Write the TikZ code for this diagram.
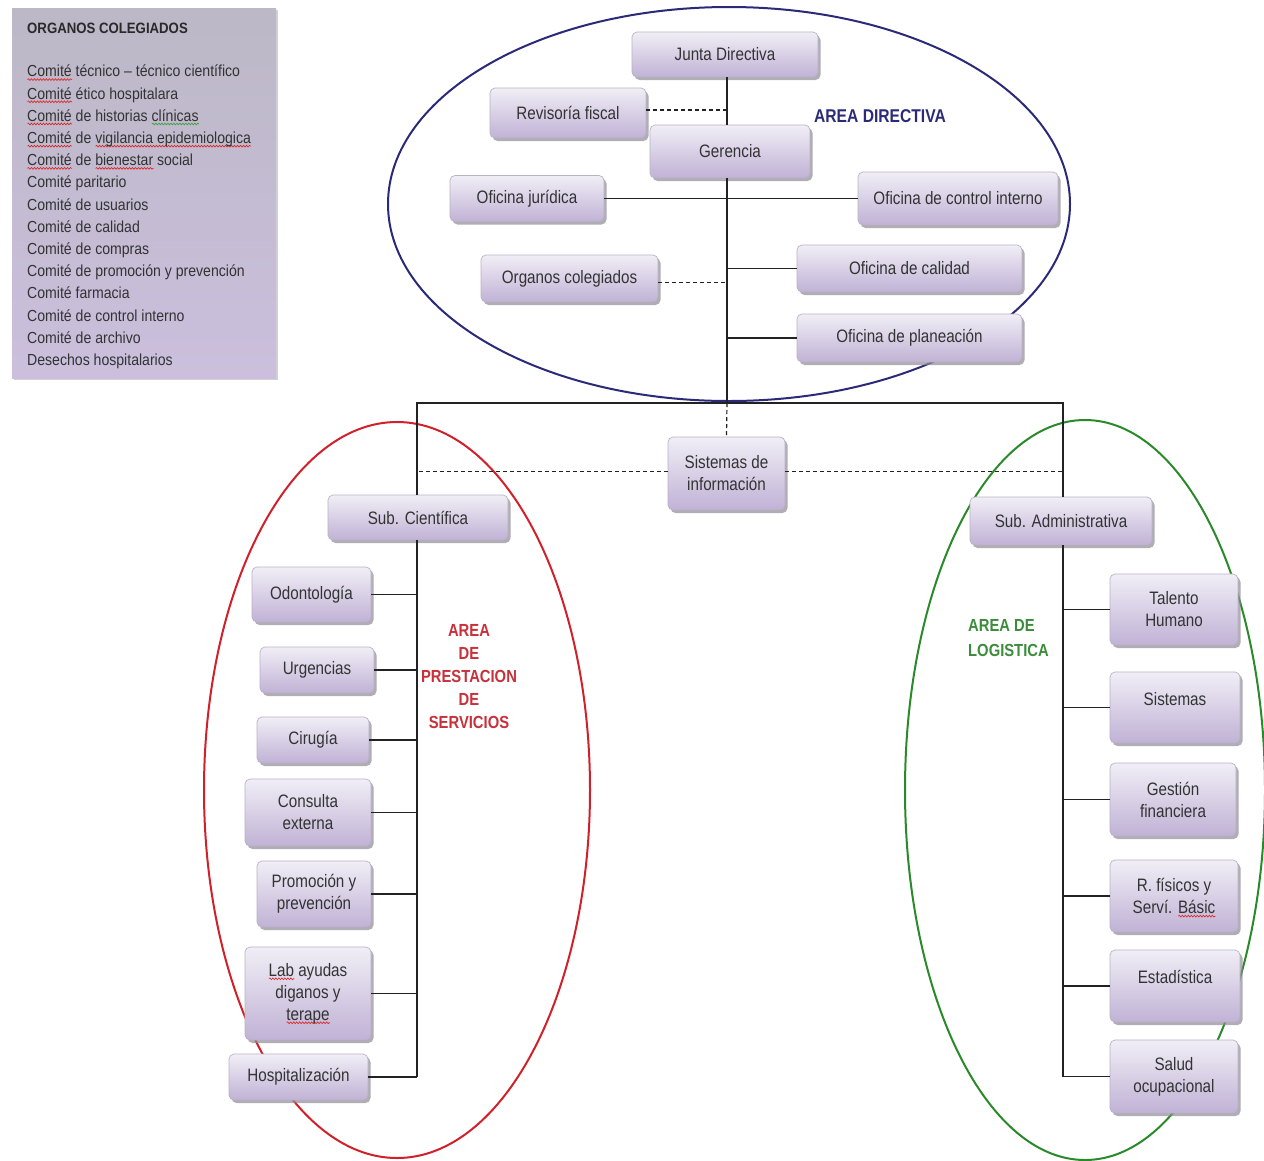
\documentclass[tikz,border=0pt]{standalone}
\usepackage{fontspec}
\setmainfont[FakeStretch=0.845]{Liberation Sans}
\newfontfamily\panelfont[FakeStretch=0.88]{Liberation Sans}
\usetikzlibrary{shadows,decorations.pathmorphing}
\definecolor{boxtop}{HTML}{F1EEF6}
\definecolor{boxbot}{HTML}{C0B2D5}
\definecolor{boxline}{HTML}{B9B1C6}
\definecolor{boxtext}{HTML}{333333}
\definecolor{shadowc}{HTML}{8E8A94}
\definecolor{paneltop}{HTML}{BCB8C6}
\definecolor{panelbot}{HTML}{CBBFDD}
\definecolor{navy}{HTML}{2B2A78}
\definecolor{areared}{HTML}{D0202A}
\definecolor{areagreen}{HTML}{2A8A2A}
\definecolor{txtred}{HTML}{C8303A}
\definecolor{txtgreen}{HTML}{3C8C3C}
\definecolor{spred}{HTML}{E02020}
\definecolor{spgreen}{HTML}{30A030}
\definecolor{linec}{HTML}{222222}
\newlength\sqlen
\newcommand\wavy[2]{\settowidth\sqlen{#2}\rlap{\raisebox{-3.8pt}[0pt][0pt]{\pgfinterruptpicture\tikz[x=1pt,y=1pt,sharp corners]\draw[#1,sharp corners,line width=0.6pt,solid,decorate,decoration={snake,amplitude=0.9pt,segment length=3pt}] (0,0) -- (\sqlen,0);\endpgfinterruptpicture}}#2}
\newcommand\redsq[1]{\wavy{spred}{#1}}
\newcommand\greensq[1]{\wavy{spgreen}{#1}}
\newcommand\boxfont{\fontsize{18}{22}\selectfont}
\tikzset{
  box/.style={rounded corners=5pt, draw=boxline, line width=0.7pt,
    top color=boxtop, bottom color=boxbot,
    drop shadow={shadow xshift=2.5pt, shadow yshift=-3pt, fill=shadowc, opacity=0.7},
    text=boxtext, font=\boxfont, align=center, inner sep=2pt},
  panel/.style={draw=none, top color=paneltop, bottom color=panelbot,
    drop shadow={shadow xshift=1.5pt, shadow yshift=-1.5pt, fill=shadowc, opacity=0.4}},
  conn/.style={draw=linec, line width=1.2pt},
  dconn/.style={conn, dash pattern=on 4pt off 3pt},
  area/.style={line width=2pt},
  arealabel/.style={font=\fontsize{18.5}{23}\selectfont\bfseries, inner sep=0pt},
  raised/.style={text depth=18pt}
}
\newcommand\orgbox[7][]{\node[box, minimum width=#5, minimum height=#6, #1] (#2) at (#3,#4) {#7};}
\begin{document}
\begin{tikzpicture}[x=1pt,y=-1pt]
\useasboundingbox (0,0) rectangle (1264,1160);
% area ellipses (behind boxes)
\draw[area, draw=navy] (729,204) ellipse [x radius=341, y radius=197];
\draw[area, draw=areared] (397,790) ellipse [x radius=193, y radius=368];
\draw[area, draw=areagreen] (1085,790) ellipse [x radius=180, y radius=370];
% panel of organos colegiados
\node[panel, minimum width=264, minimum height=370, anchor=north west, inner sep=0pt] (panel) at (12,8) {};
\node[anchor=west, inner sep=0pt, text=boxtext!80!black,
      font=\panelfont\fontsize{15}{18}\selectfont\bfseries] (ptitle) at (27,28) {ORGANOS COLEGIADOS};
\node[anchor=north west, align=left, inner sep=0pt, text=boxtext,
      font=\panelfont\fontsize{16}{22.2}\selectfont] (plist) at (27,65) {%
\redsq{Comité} técnico – técnico científico\\
\redsq{Comité} ético hospitalara\\
\redsq{Comité} de historias \greensq{clínicas}\\
\redsq{Comité} de \redsq{vigilancia epidemiologica}\\
\redsq{Comité} de \redsq{bienestar} social\\
Comité paritario\\
Comité de usuarios\\
Comité de calidad\\
Comité de compras\\
Comité de promoción y prevención\\
Comité farmacia\\
Comité de control interno\\
Comité de archivo\\
Desechos hospitalarios};
% top area
\orgbox{jd}{725}{54.5}{186}{45}{Junta Directiva}
\orgbox{rf}{568}{113}{156}{50}{Revisoría fiscal}
\orgbox{ger}{730}{151.5}{160}{53}{Gerencia}
\orgbox{oj}{527}{198.5}{154}{46}{Oficina jurídica}
\orgbox{oci}{958}{198.5}{200}{53}{Oficina de control interno}
\orgbox{oc}{569.5}{278.5}{177}{47}{Organos colegiados}
\orgbox{ocal}{909.5}{268.5}{225}{47}{Oficina de calidad}
\orgbox{opl}{909.5}{338}{225}{48}{Oficina de planeación}
\orgbox{si}{726.5}{473.5}{117}{73}{Sistemas de\\información}
\orgbox{sc}{418}{517.5}{180}{45}{Sub. Científica}
\orgbox{sa}{1061}{521}{182}{48}{Sub. Administrativa}
% left children
\orgbox{odo}{311.5}{594.5}{119}{55}{Odontología}
\orgbox{urg}{317}{670}{114}{46}{Urgencias}
\orgbox{cir}{313}{740}{112}{46}{Cirugía}
\orgbox{con}{308}{812.5}{126}{67}{Consulta\\externa}
\orgbox{pro}{314}{894}{114}{66}{Promoción y\\prevención}
\orgbox{lab}{308}{993.5}{126}{93}{\redsq{Lab} ayudas\\diganos y\\\redsq{terape}}
\orgbox{hos}{298.5}{1077}{139}{46}{Hospitalización}
% right children
\orgbox{th}{1174}{609.5}{128}{71}{Talento\\Humano}
\orgbox[raised]{sis}{1175}{707.5}{130}{71}{Sistemas}
\orgbox{gf}{1173}{799.5}{126}{73}{Gestión\\financiera}
\orgbox{rfs}{1174}{896}{128}{72}{R. físicos y\\Serví. \redsq{Básic}}
\orgbox[raised]{est}{1175}{986}{130}{72}{Estadística}
\orgbox{so}{1174}{1076.5}{128}{73}{Salud\\ocupacional}
% junction coordinates
\coordinate (hb) at (727,403);
\coordinate (hl) at (417,403);
\coordinate (hr) at (1063,403);
% connectors top
\draw[conn] (jd.south -| hb) -- (ger.north -| hb);
\draw[dconn] ([yshift=3pt]rf.east) -- ([yshift=3pt]rf.east -| hb);
\draw[conn] (ger.south -| hb) -- (hb);
\draw[conn] (oj.east) -- (oj.east -| oci.west);
\draw[dconn] ([yshift=-4pt]oc.east) -- ([yshift=-4pt]oc.east -| hb);
\draw[conn] (ocal.west) -- (ocal.west -| hb);
\draw[conn] (opl.west) -- (opl.west -| hb);
\draw[conn] (sc.north -| hl) -- (hl) -- (hr) -- (sa.north -| hr);
\draw[dconn] (hb) -- (si.north);
\draw[dconn] ([yshift=2pt]si.west) -- ([yshift=2pt]si.west -| hl);
\draw[dconn] ([yshift=2pt]si.east) -- ([yshift=2pt]si.east -| hr);
% left trunk
\draw[conn] (sc.south -| hl) -- (hos.east -| hl);
\foreach \n in {odo,urg,cir,con,pro,lab,hos}{\draw[conn] (\n.east) -- (\n.east -| hl);}
% right trunk
\draw[conn] (sa.south -| hr) -- (so.west -| hr);
\foreach \n in {th,sis,gf,rfs,est,so}{\draw[conn] (\n.west) -- (\n.west -| hr);}
% area labels
\node[arealabel, text=navy] (lad) at (880,116) {AREA DIRECTIVA};
\node[arealabel, text=txtred, align=center, font=\fontsize{17.5}{23}\selectfont\bfseries] (lap) at (469,677) {AREA\\DE\\PRESTACION\\DE\\SERVICIOS};
\node[arealabel, text=txtgreen, align=left, anchor=west, font=\fontsize{17.5}{25}\selectfont\bfseries] (lal) at (968,638.5) {AREA DE\\LOGISTICA};
\end{tikzpicture}
\end{document}
